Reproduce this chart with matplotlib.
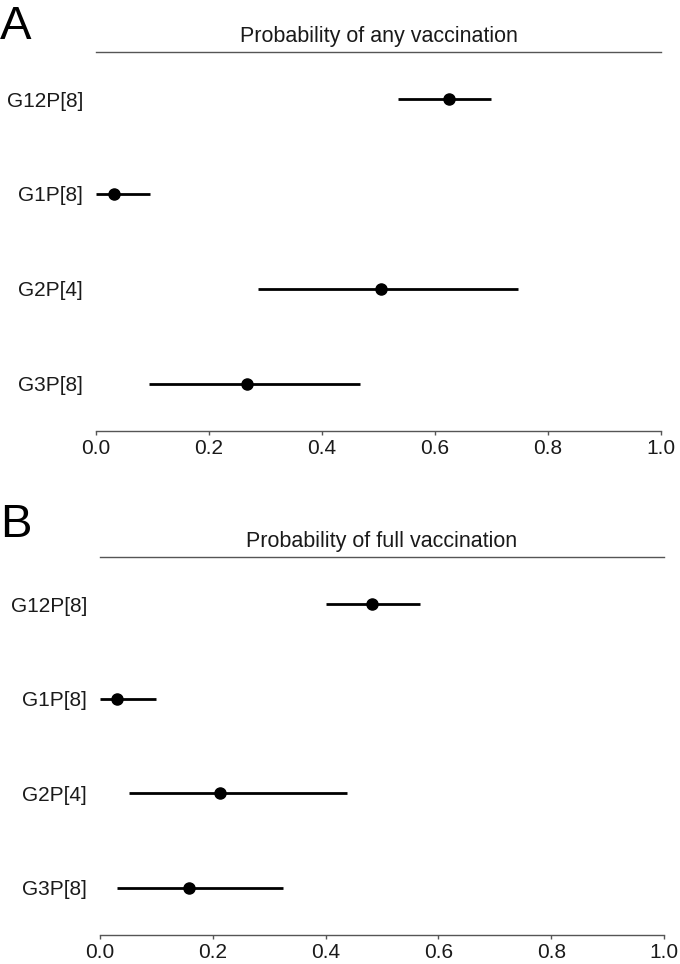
import matplotlib
matplotlib.use("Agg")
import matplotlib.pyplot as plt

plt.rcParams['font.family'] = ['Liberation Sans', 'DejaVu Sans']

categories = ["G12P[8]", "G1P[8]", "G2P[4]", "G3P[8]"]

any_est = [0.625, 0.031, 0.504, 0.267]
any_lo = [0.534, 0.0, 0.286, 0.093]
any_hi = [0.699, 0.096, 0.747, 0.467]

full_est = [0.482, 0.030, 0.212, 0.157]
full_lo = [0.401, 0.0, 0.052, 0.031]
full_hi = [0.567, 0.100, 0.438, 0.325]

titles = ["Probability of any vaccination", "Probability of full vaccination"]
panel_letters = ["A", "B"]
xticks = [0.0, 0.2, 0.4, 0.6, 0.8, 1.0]
xticklabels = ["0.0", "0.2", "0.4", "0.6", "0.8", "1.0"]

W, H = 680, 964
fig = plt.figure(figsize=(W / 100, H / 100), dpi=100)

# axes boxes in pixels: (left, right, top, bottom)
boxes = [(96, 661, 51.7, 431), (100, 664, 557, 935)]
letter_pos = [(0, 5), (0, 503)]

data = [(any_est, any_lo, any_hi), (full_est, full_lo, full_hi)]
grey = "#555555"
textc = "#1a1a1a"

n = len(categories)
ypos = list(range(n, 0, -1))

for i, (box, (est, lo, hi)) in enumerate(zip(boxes, data)):
    l, r, t, b = box
    ax = fig.add_axes([l / W, 1 - b / H, (r - l) / W, (b - t) / H])
    ax.set_xlim(0, 1)
    ax.set_ylim(0.5, n + 0.5)
    ax.hlines(ypos, lo, hi, color="black", linewidth=2.0, clip_on=False)
    ax.plot(est, ypos, "o", color="black", markersize=8, clip_on=False)
    for s in ["left", "right"]:
        ax.spines[s].set_visible(False)
    ax.spines["top"].set_color(grey)
    ax.spines["bottom"].set_color(grey)
    ax.spines["top"].set_linewidth(1.0)
    ax.spines["bottom"].set_linewidth(1.0)
    ax.set_xticks(xticks)
    ax.set_xticklabels(xticklabels)
    ax.set_yticks(ypos)
    ax.set_yticklabels(categories)
    ax.tick_params(axis="y", length=0, pad=9.4, labelsize=15, labelcolor=textc)
    ax.tick_params(axis="x", length=3, width=1.0, color=grey, pad=2.5,
                   labelsize=15, labelcolor=textc)
    ax.set_title(titles[i], fontsize=15.5, color=textc, pad=7)
    lx, ly = letter_pos[i]
    fig.text(lx / W, 1 - ly / H, panel_letters[i], fontsize=34,
             ha="left", va="top", color="black")

fig.savefig("out.png", dpi=100, facecolor="white")
